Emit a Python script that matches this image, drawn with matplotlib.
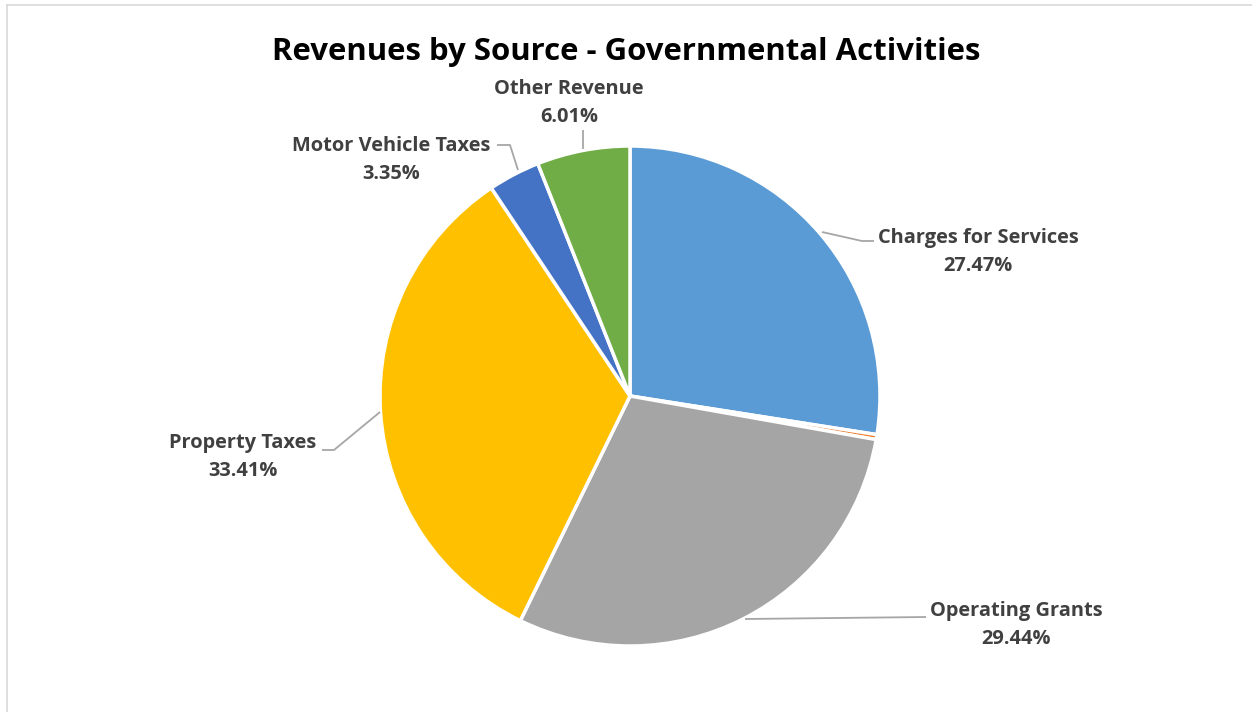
import matplotlib.pyplot as plt

# revenue shares, clockwise from 12 o'clock
sources = ['Charges for Services', 'Capital Grants', 'Operating Grants',
           'Property Taxes', 'Motor Vehicle Taxes', 'Other Revenue']
shares = [27.47, 0.32, 29.44, 33.41, 3.35, 6.01]
colors = ['#5B9BD5', '#ED7D31', '#A5A5A5', '#FFC000', '#4472C4', '#70AD47']
show_label = [True, False, True, True, True, True]

W, H = 1252, 712
fig = plt.figure(figsize=(W / 100, H / 100), dpi=100)
ax = fig.add_axes([0, 0, 1, 1])

cx, cy, r = 630, H - 396, 250
wedges, _ = ax.pie(shares, colors=colors, startangle=90, counterclock=False,
                   center=(cx, cy), radius=r, frame=True,
                   wedgeprops=dict(edgecolor='white', linewidth=2.5))
ax.set_xlim(0, W)
ax.set_ylim(0, H)
ax.set_aspect('equal')
ax.axis('off')

# label centres and leader polylines, in pixels from the top-left corner
label_pos = {
    'Charges for Services': (978, 252),
    'Operating Grants': (1016, 625),
    'Property Taxes': (243, 457),
    'Motor Vehicle Taxes': (391, 160),
    'Other Revenue': (569, 103),
}
leaders = {
    'Charges for Services': [(874, 241), (862, 241), (822, 232)],
    'Operating Grants': [(926, 617), (745, 619)],
    'Property Taxes': [(322, 450), (334, 450), (380, 412)],
    'Motor Vehicle Taxes': [(497, 145), (510, 145), (518, 170)],
    'Other Revenue': [(583, 130), (583, 149)],
}

font = ['Open Sans', 'DejaVu Sans']
for name, val, show in zip(sources, shares, show_label):
    if not show:
        continue
    tx, ty = label_pos[name]
    ax.text(tx, H - ty, f'{name}\n{val:.2f}%', ha='center', va='center',
            fontsize=14.4, fontweight='bold', color='#404040', family=font,
            linespacing=1.5)
    xs = [p[0] for p in leaders[name]]
    ys = [H - p[1] for p in leaders[name]]
    ax.plot(xs, ys, color='#A6A6A6', linewidth=1.3, solid_capstyle='butt')

fig.text(0.5, 1 - 52 / H, 'Revenues by Source - Governmental Activities',
         ha='center', va='center', fontsize=22.4, fontweight='bold',
         color='black', family=font)

# chart area border
fig.add_artist(plt.Line2D([6.5 / W, 6.5 / W], [0, 1 - 4.5 / H],
                          color='#D9D9D9', linewidth=1.2))
fig.add_artist(plt.Line2D([6.5 / W, 1], [1 - 4.5 / H, 1 - 4.5 / H],
                          color='#D9D9D9', linewidth=1.2))

fig.savefig('out.png', dpi=100, facecolor='white')
